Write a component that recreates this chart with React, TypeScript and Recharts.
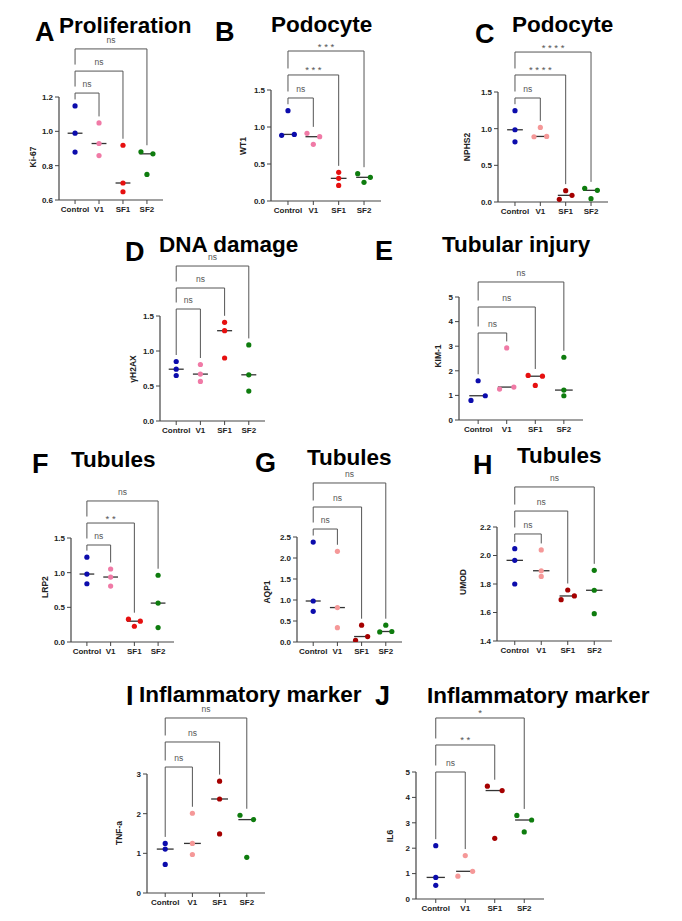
import React from 'react'
import { ScatterChart, Scatter, XAxis, YAxis, ReferenceLine } from 'recharts'

const FONT = '"Liberation Sans", Arial, Helvetica, sans-serif'
const groups = ['Control', 'V1', 'SF1', 'SF2']

// A - Ki-67
const ki67 = [[1.148, 0.989, 0.879], [1.049, 0.929, 0.859], [0.919, 0.699, 0.648], [0.881, 0.869, 0.749]]
const ki67Ticks = [0.6, 0.8, 1.0, 1.2]
const ki67Brackets = [1.223, 1.351, 1.48]
const ki67Stars = ['ns', 'ns', 'ns']

// B - WT1
const wt1 = [[1.22, 0.887, 0.9], [0.914, 0.869, 0.766], [0.387, 0.306, 0.21], [0.369, 0.32, 0.252]]
const wt1Ticks = [0, 0.5, 1.0, 1.5]
const wt1Brackets = [1.392, 1.703, 2.027]
const wt1Stars = ['ns', '* * *', '* * *']

// C - NPHS2
const nphs2 = [[1.245, 0.985, 0.82], [1.017, 0.89, 0.894], [0.155, 0.036, 0.091], [0.186, 0.159, 0.045]]
const nphs2Ticks = [0, 0.5, 1.0, 1.5]
const nphs2Brackets = [1.418, 1.732, 2.045]
const nphs2Stars = ['ns', '* * * *', '* * * *']

// D - gH2AX
const h2ax = [[0.85, 0.74, 0.65], [0.807, 0.67, 0.565], [1.41, 1.29, 0.9], [1.087, 0.66, 0.427]]
const h2axTicks = [0, 0.5, 1.0, 1.5]
const h2axBrackets = [1.6, 1.9, 2.214]
const h2axStars = ['ns', 'ns', 'ns']

// E - KIM-1
const kim1 = [[1.595, 0.797, 0.986], [2.93, 1.257, 1.338], [1.81, 1.78, 1.405], [2.55, 1.216, 0.986]]
const kim1Ticks = [0, 1, 2, 3, 4, 5]
const kim1Brackets = [3.537, 4.593, 5.61]
const kim1Stars = ['ns', 'ns', 'ns']

// F - LRP2
const lrp2 = [[1.224, 0.98, 0.84], [1.053, 0.937, 0.807], [0.329, 0.3, 0.227], [0.963, 0.561, 0.208]]
const lrp2Ticks = [0, 0.5, 1.0, 1.5]
const lrp2Brackets = [1.399, 1.716, 2.034]
const lrp2Stars = ['ns', '* *', 'ns']

// G - AQP1
const aqp1 = [[2.38, 0.976, 0.73], [2.16, 0.82, 0.34], [0.4, 0.04, 0.13], [0.4, 0.24, 0.25]]
const aqp1Ticks = [0, 0.5, 1.0, 1.5, 2.0, 2.5]
const aqp1Brackets = [2.69, 3.214, 3.786]
const aqp1Stars = ['ns', 'ns', 'ns']

// H - UMOD
const umod = [[2.048, 1.966, 1.8], [2.039, 1.893, 1.853], [1.758, 1.69, 1.716], [1.896, 1.756, 1.592]]
const umodTicks = [1.4, 1.6, 1.8, 2.0, 2.2]
const umodBrackets = [2.151, 2.312, 2.481]
const umodStars = ['ns', 'ns', 'ns']

// I - TNF-a
const tnfa = [[1.25, 1.107, 0.72], [2.01, 1.25, 0.97], [2.82, 2.37, 1.49], [1.96, 1.85, 0.9]]
const tnfaTicks = [0, 1, 2, 3]
const tnfaBrackets = [3.176, 3.807, 4.412]
const tnfaStars = ['ns', 'ns', 'ns']

// J - IL6
const il6 = [[2.1, 0.85, 0.54], [1.71, 0.9, 1.09], [4.44, 4.27, 2.39], [3.29, 3.11, 2.64]]
const il6Ticks = [0, 1, 2, 3, 4, 5]
const il6Brackets = [5.0, 6.063, 7.126]
const il6Stars = ['ns', '* *', '*']

const BLUE = '#0c0cac'
const PINK = '#f07aa6'
const SALMON = '#f59898'
const RED = '#e61010'
const DARKRED = '#a50000'
const GREEN = '#0e7c0e'

const X_LO = -0.67
const X_HI = 3.67

function median(v: number[]) {
  const s = [...v].sort((a, b) => a - b)
  return s[Math.floor(s.length / 2)]
}

// Prism-like spreading: the closest pair of overlapping points goes left / right
function slots(vals: number[], ppu: number) {
  const out = vals.map(() => 0)
  let best = Infinity
  let bi = -1
  let bj = -1
  for (let i = 0; i < vals.length; i++) {
    for (let j = i + 1; j < vals.length; j++) {
      const d = Math.abs(vals[i] - vals[j]) * ppu
      if (d < 5.2 && d < best) {
        best = d
        bi = i
        bj = j
      }
    }
  }
  if (bi >= 0) {
    out[bi] = -1
    out[bj] = 1
  }
  return out
}

type PanelProps = {
  values: number[][]
  ticks: number[]
  brackets: number[]
  stars: string[]
  dark?: boolean
  box: number[]
  digits: number
}

function Panel({ values, ticks, brackets, stars, dark, box, digits }: PanelProps) {
  const [L, R, T, B] = box
  const lo = ticks[0]
  const hi = ticks[ticks.length - 1]
  const ppu = (B - T) / (hi - lo)
  const catPx = (R - L) / (X_HI - X_LO)
  const colors = [BLUE, dark ? SALMON : PINK, dark ? DARKRED : RED, GREEN]
  const gap = 6.5 / ppu
  const maxes = values.map((v) => Math.max(...v))
  const medians = values.map((v, i) => ({ x: i, y: median(v) }))
  const tickStyle = { fontSize: 8, fontWeight: 700, fill: '#222', fontFamily: FONT }

  return (
    <div style={{ position: 'absolute', left: L - 50, top: T - 75 }}>
      <ScatterChart width={R - L + 60} height={B - T + 105} margin={{ top: 75, right: 10, bottom: 10, left: 0 }}>
        <XAxis
          type="number"
          dataKey="x"
          domain={[X_LO, X_HI]}
          ticks={[0, 1, 2, 3]}
          interval={0}
          allowDataOverflow
          tickFormatter={(v) => groups[v]}
          height={20}
          tickSize={4}
          axisLine={{ stroke: '#444', strokeWidth: 1.2 }}
          tickLine={{ stroke: '#444', strokeWidth: 1 }}
          tick={tickStyle}
        />
        <YAxis
          type="number"
          dataKey="y"
          domain={[lo, hi]}
          ticks={ticks}
          interval={0}
          allowDataOverflow
          tickFormatter={(v) => Number(v).toFixed(digits)}
          width={50}
          tickSize={4}
          axisLine={{ stroke: '#444', strokeWidth: 1.2 }}
          tickLine={{ stroke: '#444', strokeWidth: 1 }}
          tick={tickStyle}
        />
        {brackets.map((by, k) => {
          const t = k + 1
          const leftEnd = k === 0 ? maxes[0] + gap : brackets[k - 1] + gap
          const isNs = stars[k] === 'ns'
          return (
            <React.Fragment key={k}>
              <ReferenceLine
                segment={[{ x: 0, y: by }, { x: t, y: by }]}
                ifOverflow="visible"
                stroke="#555"
                strokeWidth={1}
                label={{
                  value: stars[k],
                  position: 'top',
                  offset: isNs ? 6 : 1.5,
                  fontSize: isNs ? 8.5 : 9.5,
                  fill: '#555',
                  fontFamily: FONT,
                }}
              />
              <ReferenceLine segment={[{ x: 0, y: by }, { x: 0, y: leftEnd }]} ifOverflow="visible" stroke="#555" strokeWidth={1} />
              <ReferenceLine segment={[{ x: t, y: by }, { x: t, y: maxes[t] + gap }]} ifOverflow="visible" stroke="#555" strokeWidth={1} />
            </React.Fragment>
          )
        })}
        <Scatter
          data={medians}
          isAnimationActive={false}
          shape={(p: any) => (
            <line x1={p.cx - catPx * 0.31} x2={p.cx + catPx * 0.31} y1={p.cy} y2={p.cy} stroke="#333" strokeWidth={1.3} />
          )}
        />
        {values.map((vals, i) => {
          const sl = slots(vals, ppu)
          const pts = vals.map((v, j) => ({ x: i + sl[j] * 0.25, y: v }))
          return (
            <Scatter
              key={i}
              data={pts}
              isAnimationActive={false}
              shape={(p: any) => <circle cx={p.cx} cy={p.cy} r={2.6} fill={colors[i]} />}
            />
          )
        })}
      </ScatterChart>
    </div>
  )
}

const panels = [
  { letter: 'A', lx: 35, ly: 41, title: 'Proliferation', tx: 59, ty: 33, ylab: 'Ki-67', yx: 33, yy: 157 },
  { letter: 'B', lx: 215, ly: 41, title: 'Podocyte', tx: 271, ty: 32, ylab: 'WT1', yx: 243, yy: 146 },
  { letter: 'C', lx: 475, ly: 43, title: 'Podocyte', tx: 512, ty: 32, ylab: 'NPHS2', yx: 467, yy: 147 },
  { letter: 'D', lx: 125, ly: 261, title: 'DNA damage', tx: 159, ty: 252, ylab: 'γH2AX', yx: 133, yy: 369 },
  { letter: 'E', lx: 375, ly: 260, title: 'Tubular injury', tx: 442, ty: 252, ylab: 'KIM-1', yx: 438, yy: 356 },
  { letter: 'F', lx: 32, ly: 473, title: 'Tubules', tx: 71, ty: 467, ylab: 'LRP2', yx: 45, yy: 587 },
  { letter: 'G', lx: 255, ly: 472, title: 'Tubules', tx: 307, ty: 465, ylab: 'AQP1', yx: 267, yy: 592 },
  { letter: 'H', lx: 473, ly: 474, title: 'Tubules', tx: 517, ty: 463, ylab: 'UMOD', yx: 463, yy: 582 },
  { letter: 'I', lx: 126, ly: 705, title: 'Inflammatory marker', tx: 139, ty: 702, ylab: 'TNF-a', yx: 119, yy: 833 },
  { letter: 'J', lx: 375, ly: 705, title: 'Inflammatory marker', tx: 427, ty: 703, ylab: 'IL6', yx: 390, yy: 836 },
]

export default function App() {
  return (
    <div style={{ position: 'absolute', left: 0, top: 0, width: 682, height: 921, background: '#fff', overflow: 'hidden' }}>
      <Panel values={ki67} ticks={ki67Ticks} brackets={ki67Brackets} stars={ki67Stars} box={[59, 163, 97, 200]} digits={1} />
      <Panel values={wt1} ticks={wt1Ticks} brackets={wt1Brackets} stars={wt1Stars} box={[271, 381, 90, 201]} digits={1} />
      <Panel values={nphs2} ticks={nphs2Ticks} brackets={nphs2Brackets} stars={nphs2Stars} dark box={[498, 608, 92, 202]} digits={1} />
      <Panel values={h2ax} ticks={h2axTicks} brackets={h2axBrackets} stars={h2axStars} box={[160, 265, 316, 421]} digits={1} />
      <Panel values={kim1} ticks={kim1Ticks} brackets={kim1Brackets} stars={kim1Stars} box={[459, 583, 297, 420]} digits={0} />
      <Panel values={lrp2} ticks={lrp2Ticks} brackets={lrp2Brackets} stars={lrp2Stars} box={[71, 174, 538, 642]} digits={1} />
      <Panel values={aqp1} ticks={aqp1Ticks} brackets={aqp1Brackets} stars={aqp1Stars} dark box={[297, 402, 537, 642]} digits={1} />
      <Panel values={umod} ticks={umodTicks} brackets={umodBrackets} stars={umodStars} dark box={[497, 612, 527, 641]} digits={1} />
      <Panel values={tnfa} ticks={tnfaTicks} brackets={tnfaBrackets} stars={tnfaStars} dark box={[147, 265, 774, 893]} digits={0} />
      <Panel values={il6} ticks={il6Ticks} brackets={il6Brackets} stars={il6Stars} dark box={[416, 544, 772, 899]} digits={0} />
      <svg width={682} height={921} style={{ position: 'absolute', left: 0, top: 0, pointerEvents: 'none' }}>
        {panels.map((p) => (
          <g key={p.letter} fontFamily={FONT} fontWeight={700}>
            <text x={p.lx} y={p.ly} fontSize={27} fill="#000">{p.letter}</text>
            <text x={p.tx} y={p.ty} fontSize={22.5} fill="#000">{p.title}</text>
            <text
              x={p.yx}
              y={p.yy}
              fontSize={8.5}
              fill="#222"
              textAnchor="middle"
              dominantBaseline="central"
              transform={`rotate(-90 ${p.yx} ${p.yy})`}
            >
              {p.ylab}
            </text>
          </g>
        ))}
      </svg>
    </div>
  )
}
